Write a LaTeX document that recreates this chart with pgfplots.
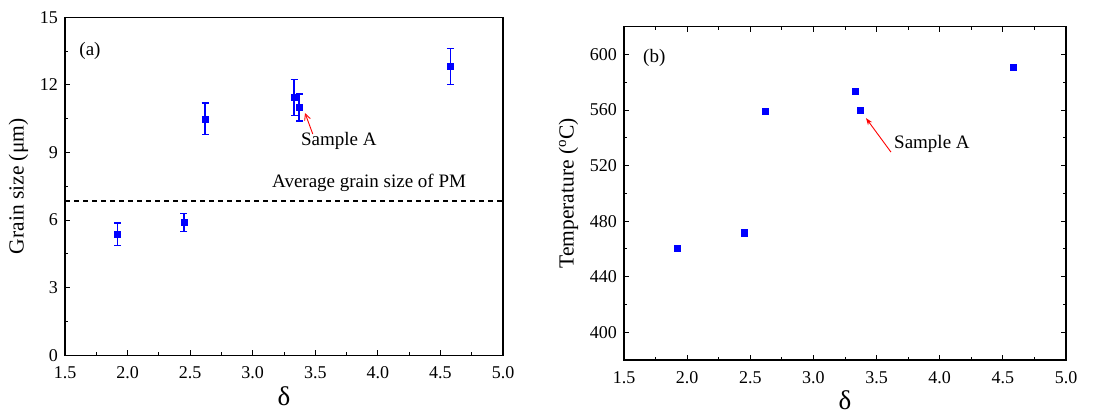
\documentclass[border=0pt]{standalone}
\usepackage{fontspec}
\setmainfont{Liberation Serif}
\usepackage{pgfplots}
\pgfplotsset{compat=1.18}
\usetikzlibrary{arrows.meta}
\begin{document}
\begin{tikzpicture}
\path[use as bounding box] (0pt,0pt) rectangle (1099pt,416pt);
\pgfplotsset{
  base/.style={
    scale only axis,
    axis line style={line width=1.2pt},
    tick style={black, line width=0.9pt},
    major tick length=5pt, minor tick length=3pt,
    tick align=inside,
    xmin=1.5, xmax=5,
    xtick={1.5,2,2.5,3,3.5,4,4.5,5},
    minor x tick num=1,
    xticklabel style={yshift=-10pt, /pgf/number format/.cd, fixed, fixed zerofill, precision=1},
    yticklabel style={xshift=-6pt},
    /pgf/number format/assume math mode=true,
    tick label style={font=\fontsize{18}{20}\selectfont, inner sep=1pt},
    label style={font=\fontsize{21.5}{24}\selectfont},
    xlabel={\fontsize{27}{30}\selectfont δ},
    xlabel style={yshift=-3pt},
    ylabel style={yshift=7pt},
  },
  pts/.style={only marks, mark=square*, color=blue, mark options={fill=blue, draw=blue}},
}
% ---------- (a) ----------
\begin{axis}[base, at={(65pt,60.7pt)}, anchor=south west, width=438pt, height=338pt,
  ymin=0, ymax=15, ytick={0,3,6,9,12,15}, minor y tick num=1,
  tick pos=left,
  ylabel={Grain size (μm)}]
\addplot[black, line width=1.1pt, dash pattern=on 5pt off 4pt] coordinates {(1.5,6.85) (5,6.85)};
\addplot[pts, mark size=3pt,
  error bars/.cd, y dir=both, y explicit,
  error bar style={line width=1.4pt, blue},
  error mark options={rotate=90, mark size=3.5pt, line width=1.4pt, blue}]
  coordinates {
  (1.92,5.38) +- (0,0.50)
  (2.45,5.90) +- (0,0.40)
  (2.62,10.49) +- (0,0.70)
  (3.33,11.45) +- (0,0.80)
  (3.37,11.00) +- (0,0.60)
  (4.58,12.81) +- (0,0.80)
  };
\node[font=\fontsize{19}{21}\selectfont] at (axis cs:3.93,7.65) {Average grain size of PM};
\node[font=\fontsize{19}{21}\selectfont, anchor=west, inner sep=0pt] at (axis cs:3.385,9.5) {Sample A};
\node[font=\fontsize{19}{21}\selectfont] at (axis cs:1.70,13.5) {(a)};
\draw[red, line width=0.9pt, -{Straight Barb[length=6pt,width=6pt]}] (axis cs:3.48,9.82) -- (axis cs:3.418,10.75);
\end{axis}
% ---------- (b) ----------
\begin{axis}[base, at={(624pt,56pt)}, anchor=south west, width=442pt, height=333.3pt,
  ymin=380, ymax=620, ytick={400,440,480,520,560,600}, minor y tick num=1,
  ylabel={Temperature (\textsuperscript{o}C)}]
\addplot[pts, mark size=3.2pt] coordinates {
  (1.92,460.4) (2.45,471.7) (2.62,559.2) (3.33,573.4) (3.37,560.0) (4.58,590.9)
  };
\node[font=\fontsize{19}{21}\selectfont, anchor=west, inner sep=0pt] at (axis cs:3.638,535.5) {Sample A};
\node[font=\fontsize{19}{21}\selectfont] at (axis cs:1.74,597.7) {(b)};
\draw[red, line width=0.9pt, -{Stealth[length=7pt,width=5pt]}] (axis cs:3.614,529.7) -- (axis cs:3.416,554.2);
\end{axis}
\end{tikzpicture}
\end{document}
